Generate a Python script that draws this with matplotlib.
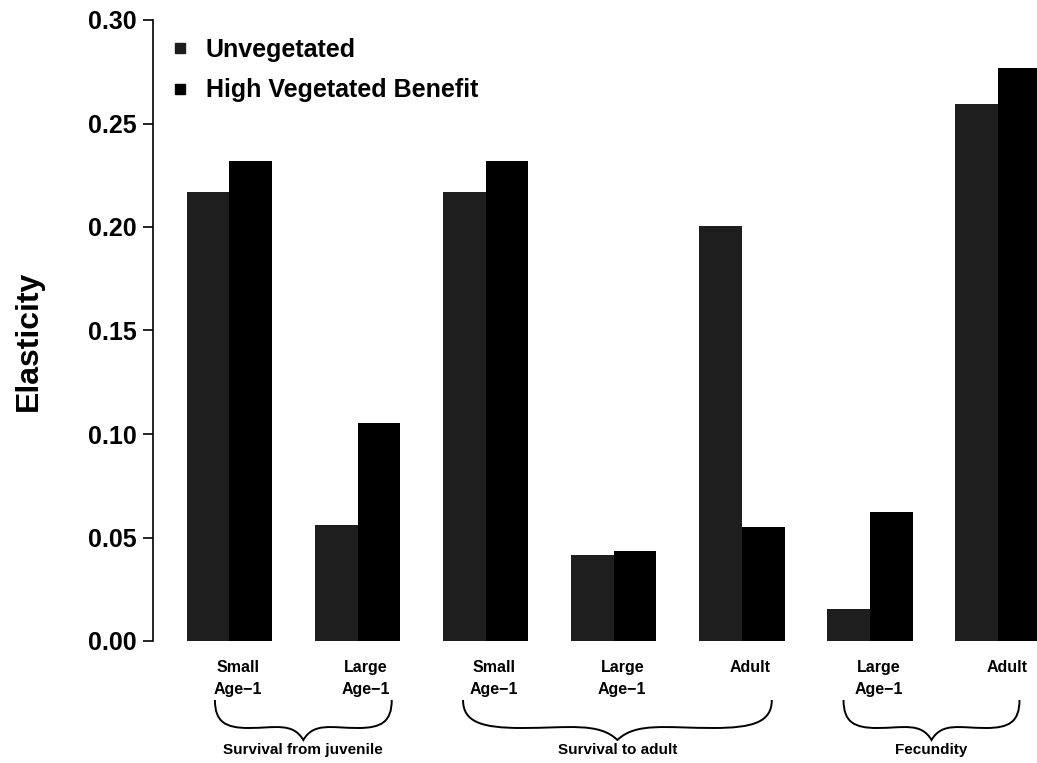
import numpy as np
import matplotlib.pyplot as plt
from matplotlib.lines import Line2D
from matplotlib.path import Path
from matplotlib.patches import PathPatch

# elasticities
stages = ["Small\nAge\u22121", "Large\nAge\u22121", "Small\nAge\u22121", "Large\nAge\u22121",
          "Adult", "Large\nAge\u22121", "Adult"]
unveg = [0.217, 0.0559, 0.217, 0.0414, 0.2005, 0.0155, 0.2593]
high_veg = [0.232, 0.1055, 0.232, 0.0436, 0.0551, 0.0623, 0.2767]
groups = ["Survival from juvenile", "Survival to adult", "Fecundity"]
group_span = [(1.66, 5.8), (7.47, 14.7), (16.38, 20.5)]

plt.rcParams['font.family'] = ['Liberation Sans', 'DejaVu Sans']

W, H = 1037, 763
fig = plt.figure(figsize=(W / 100, H / 100), dpi=100)
ax_left, ax_top, ax_bot = 153, 20, 641
ax = fig.add_axes([ax_left / W, (H - ax_bot) / H, 1 - ax_left / W, (ax_bot - ax_top) / H])

x = 1 + 3 * np.arange(len(unveg))
ax.bar(x, unveg, width=1, align='edge', color='#1e1e1e', linewidth=0)
ax.bar(x + 1, high_veg, width=1, align='edge', color='black', linewidth=0)

ax.set_xlim(0.21, 20.91)
ax.set_ylim(0, 0.30)
for s in ['top', 'right', 'bottom']:
    ax.spines[s].set_visible(False)
ax.spines['left'].set_linewidth(1.2)
ax.set_xticks([])
ax.set_yticks(np.arange(0, 0.31, 0.05))
ax.set_yticklabels([f"{v:.2f}" for v in np.arange(0, 0.31, 0.05)], fontsize=18, fontweight='bold')
ax.tick_params(axis='y', length=7, width=1.2, pad=5)

# y label placed in figure pixels
fig.text(29 / W, 1 - 341 / H, "Elasticity", rotation=90, ha='center', va='center',
         fontsize=23, fontweight='bold')

def ypos(p):
    return (ax_bot - p) / (ax_bot - ax_top)

tr = ax.get_xaxis_transform()
for xi, lab in zip(x, stages):
    ax.text(xi + 1.2, ypos(660), lab, transform=tr, ha='center', va='top',
            fontsize=11.5, fontweight='bold', linespacing=1.6, clip_on=False)

def brace(x0, x1, ytop=700, ymid=728, ytip=740):
    xm = (x0 + x1) / 2
    h = xm - x0
    verts = [(x0, ypos(ytop)),
             (x0, ypos(ymid - 6)), (x0 + 0.12 * h, ypos(ymid)), (x0 + 0.38 * h, ypos(ymid)),
             (x0 + 0.68 * h, ypos(ymid)), (xm - 0.12 * h, ypos(ymid - 6)), (xm, ypos(ytip)),
             (xm + 0.12 * h, ypos(ymid - 6)), (x1 - 0.68 * h, ypos(ymid)), (x1 - 0.38 * h, ypos(ymid)),
             (x1 - 0.12 * h, ypos(ymid)), (x1, ypos(ymid - 6)), (x1, ypos(ytop))]
    codes = [Path.MOVETO] + [Path.CURVE4] * 12
    ax.add_patch(PathPatch(Path(verts, codes), transform=tr, fill=False, lw=1.4,
                           color='black', clip_on=False))
    return xm

for (a, b), g in zip(group_span, groups):
    xm = brace(a, b)
    ax.text(xm, ypos(750), g, transform=tr, ha='center', va='center',
            fontsize=11, fontweight='bold', clip_on=False)

handles = [Line2D([], [], marker='s', ls='', color='#1e1e1e', markersize=7),
           Line2D([], [], marker='s', ls='', color='black', markersize=7)]
fig.legend(handles, ["Unvegetated", "High Vegetated Benefit"], loc='upper left',
           bbox_to_anchor=(157 / W, 1 - 25 / H), frameon=False, borderpad=0,
           handlelength=0.8, handletextpad=0.65, labelspacing=0.68,
           prop={'size': 18, 'weight': 'bold'})

fig.savefig("out.png", dpi=100)
